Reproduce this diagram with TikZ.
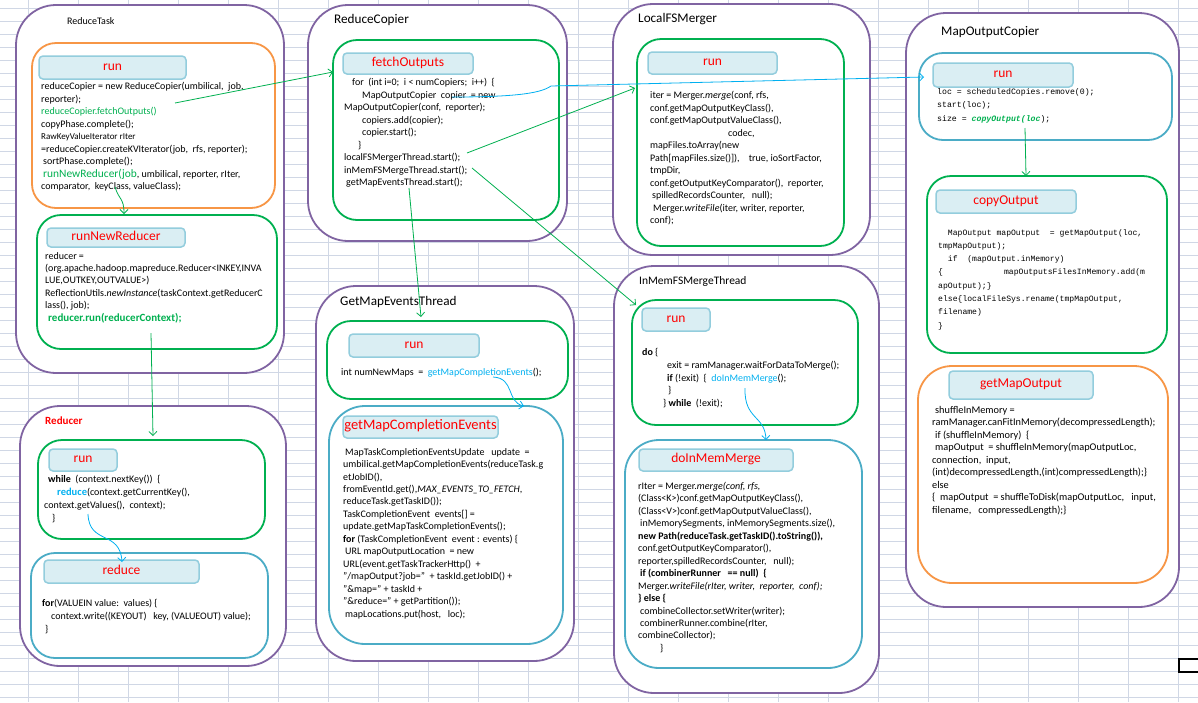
\documentclass[tikz,border=0pt]{standalone}
\usepackage{fontspec}
\setmainfont{Carlito}
\newfontfamily\cmono{Liberation Mono}
\usetikzlibrary{arrows.meta,fit}
\definecolor{purp}{HTML}{8064A2}
\definecolor{grn}{HTML}{00B050}
\definecolor{tealc}{HTML}{4BACC6}
\definecolor{orng}{HTML}{F79646}
\definecolor{hfill}{HTML}{DAEEF3}
\definecolor{hline}{HTML}{93CDDD}
\definecolor{cyanc}{HTML}{00B0F0}
\definecolor{gridc}{HTML}{D0D7E5}
\definecolor{redc}{HTML}{FF0000}
\tikzset{
  gridline/.style={draw=gridc, line width=0.7pt},
  outerbox/.style={draw=purp, line width=1.8pt, fill=white, rounded corners=40pt, inner sep=0pt},
  grnbox/.style={draw=grn, line width=1.8pt, fill=white, rounded corners=24pt, inner sep=0pt},
  tealbox/.style={draw=tealc, line width=1.8pt, fill=white, rounded corners=24pt, inner sep=0pt},
  orngbox/.style={draw=orng, line width=1.8pt, fill=white, rounded corners=24pt, inner sep=0pt},
  hdr/.style={draw=hline, line width=1.5pt, fill=hfill, rounded corners=4pt, inner sep=0pt},
  hdrtxt/.style={inner sep=0pt, text=redc, text height=1.45ex, text depth=0.3ex, font=\fontsize{13.5}{15}\selectfont},
  ttl/.style={anchor=west, inner sep=0pt, font=\fontsize{13.2}{15}\selectfont},
  code/.style={anchor=north west, inner sep=0pt, align=left, font=\fontsize{10}{12.5}\selectfont},
  mcode/.style={anchor=north west, inner sep=0pt, align=left, font=\cmono\fontsize{8.2}{13.4}\selectfont},
  gconn/.style={draw=grn, line width=0.8pt, -{Straight Barb[length=4pt,width=8pt]}},
  cconn/.style={draw=cyanc, line width=0.8pt, -{Straight Barb[length=4pt,width=8pt]}}
}
\begin{document}
\begin{tikzpicture}[x=1pt,y=-1pt]
\useasboundingbox (0,0) rectangle (1198,702);
\fill[white] (0,0) rectangle (1198,702);
% spreadsheet grid
\foreach \i in {0,...,23} \draw[gridline] (28+50*\i,0) -- (28+50*\i,702);
\foreach \j in {0,...,53} \draw[gridline] (0,8+13*\j) -- (1198,8+13*\j);
% selection marker
\draw[black, line width=2pt] (1179,659) rectangle (1202,672);

% ---------- outer boxes ----------
\node[outerbox, fit={(16,5) (284,373)}] (reducetask) {};
\node[outerbox, fit={(20,406) (286,666)}] (reducer) {};
\node[outerbox, fit={(308,5) (567,241)}] (reducecopier) {};
\node[outerbox, fit={(316,286) (574,661)}] (getmapevents) {};
\node[outerbox, fit={(613,4) (870,255)}] (localfs) {};
\node[outerbox, fit={(614,266) (879,693)}] (inmem) {};
\node[outerbox, fit={(906,13) (1179,607)}] (mapoutcopier) {};

% titles
\node[ttl, font=\fontsize{10}{12}\selectfont] (t-rt) at (67,21) {ReduceTask};
\node[ttl, font=\bfseries\fontsize{11}{13}\selectfont, text=redc] (t-rd) at (45,421) {Reducer};
\node[ttl] (t-rc) at (334,20) {ReduceCopier};
\node[ttl] (t-gm) at (340,302) {GetMapEventsThread};
\node[ttl] (t-lf) at (638,19) {LocalFSMerger};
\node[ttl, font=\fontsize{11.5}{13}\selectfont] (t-im) at (639,281) {InMemFSMergeThread};
\node[ttl] (t-mo) at (941,32) {MapOutputCopier};

% ---------- inner boxes ----------
\node[orngbox, fit={(32,43) (275,208)}] (rt-run) {};
\node[grnbox, fit={(37,215) (277,349)}] (rt-nr) {};
\node[grnbox, fit={(38,440) (265,539)}] (rd-run) {};
\node[tealbox, fit={(31,553) (268,658)}] (rd-red) {};
\node[grnbox, fit={(333,40) (559,220)}] (rc-fetch) {};
\node[grnbox, fit={(327,321) (568,399)}] (gm-run) {};
\node[tealbox, rounded corners=36pt, fit={(329,406) (563,644)}] (gm-gmce) {};
\node[grnbox, fit={(637,39) (844,246)}] (lf-run) {};
\node[grnbox, fit={(632,300) (858,425)}] (im-run) {};
\node[tealbox, rounded corners=34pt, fit={(625,440) (862,668)}] (im-dim) {};
\node[tealbox, fit={(919,53) (1172,140)}] (mo-run) {};
\node[grnbox, fit={(927,176) (1167,353)}] (mo-copy) {};
\node[orngbox, rounded corners=34pt, fit={(918,366) (1168,583)}] (mo-get) {};

% ---------- headers ----------
\node[hdr, fit={(39,56) (186,79)}] (rt-run-h) {};
\node[hdr, fit={(47,228) (185,247)}] (rt-nr-h) {};
\node[hdr, fit={(49,449) (117,471)}] (rd-run-h) {};
\node[hdr, fit={(44,560) (199,583)}] (rd-red-h) {};
\node[hdr, fit={(343,53) (473,74)}] (rc-fetch-h) {};
\node[hdr, fit={(349,334) (479,357)}] (gm-run-h) {};
\node[hdr, fit={(343,416) (498,438)}] (gm-gmce-h) {};
\node[hdr, fit={(648,52) (777,74)}] (lf-run-h) {};
\node[hdr, fit={(642,308) (710,331)}] (im-run-h) {};
\node[hdr, fit={(639,449) (793,471)}] (im-dim-h) {};
\node[hdr, fit={(933,63) (1073,87)}] (mo-run-h) {};
\node[hdr, fit={(936,190) (1076,213)}] (mo-copy-h) {};
\node[hdr, fit={(949,371) (1093,399)}] (mo-get-h) {};

\node[hdrtxt] (rt-run-t) at (rt-run-h.center) {run};
\node[hdrtxt] (rt-nr-t) at (rt-nr-h.center) {runNewReducer};
\node[hdrtxt] (rd-run-t) at (rd-run-h.center) {run};
\node[hdrtxt] (rd-red-t) at (rd-red-h.center) {reduce};
\node[hdrtxt] (rc-fetch-t) at (rc-fetch-h.center) {fetchOutputs};
\node[hdrtxt] (gm-run-t) at (gm-run-h.center) {run};
\node[hdrtxt, font=\fontsize{14.5}{16}\selectfont] (gm-gmce-t) at (gm-gmce-h.center) {getMapCompletionEvents};
\node[hdrtxt] (lf-run-t) at (lf-run-h.center) {run};
\node[hdrtxt] (im-run-t) at (im-run-h.center) {run};
\node[hdrtxt] (im-dim-t) at (im-dim-h.center) {doInMemMerge};
\node[hdrtxt] (mo-run-t) at (mo-run-h.center) {run};
\node[hdrtxt] (mo-copy-t) at (mo-copy-h.center) {copyOutput};
\node[hdrtxt] (mo-get-t) at (mo-get-h.center) {getMapOutput};

% ---------- code texts ----------
\node[code] (rt-code) at (41,82) {%
reduceCopier = new ReduceCopier(umbilical,\ \ job,\\
reporter);\\
{\color{grn}reduceCopier.fetchOutputs()}\\
copyPhase.complete();\\
{\fontsize{9}{12.5}\selectfont RawKeyValueIterator rIter}\\
=reduceCopier.createKVIterator(job,\ \ rfs, reporter);\\
\hspace*{2pt}sortPhase.complete();\\
\hspace*{2pt}{\color{grn}\fontsize{11.4}{12.5}\selectfont runNewReducer(job}, umbilical, reporter, rIter,\\
comparator,\ \ keyClass, valueClass);};

\node[code, font=\fontsize{10}{12.4}\selectfont] (nr-code) at (45,252) {%
reducer =\\
(org.apache.hadoop.mapreduce.Reducer<INKEY,INVA\\
LUE,OUTKEY,OUTVALUE>)\\
ReflectionUtils.\textit{newInstance}(taskContext.getReducerC\\
lass(), job);\\
\hspace*{3pt}{\color{grn}\bfseries\fontsize{11}{12.4}\selectfont reducer.run(reducerContext);}};

\node[code, font=\fontsize{10}{13}\selectfont] (rd-run-code) at (44,475) {%
\hspace*{4pt}\textbf{while}\ \ (context.nextKey())\ \ \{\\
\hspace*{13pt}{\color{cyanc}\bfseries\fontsize{10.5}{13}\selectfont reduce}(context.getCurrentKey(),\\
context.getValues(),\ \ context);\\
\hspace*{8pt}\}};

\node[code, font=\fontsize{10}{13}\selectfont] (rd-red-code) at (42,599) {%
\textbf{for}(VALUEIN value:\ \ values) \{\\
\hspace*{9pt}context.write((KEYOUT)\ \ \ key, (VALUEOUT) value);\\
\hspace*{3pt}\}};

\node[code] (rc-code) at (344,78) {%
\hspace*{8pt}for\ \ (int i=0;\ \ i < numCopiers;\ \ i++)\ \ \{\\
\hspace*{18pt}MapOutputCopier\ \ copier\ \ = new\\
MapOutputCopier(conf,\ \ reporter);\\
\hspace*{18pt}copiers.add(copier);\\
\hspace*{18pt}copier.start();\\
\hspace*{14pt}\}\\
localFSMergerThread.start();\\
inMemFSMergeThread.start();\\
\hspace*{2pt}getMapEventsThread.start();};

\node[code] (gm-run-code) at (341,368) {%
int numNewMaps\ \ =\ \ {\color{cyanc}getMapCompletionEvents}();};

\node[code, font=\fontsize{10}{12.45}\selectfont] (gmce-code) at (343,448) {%
\hspace*{2pt}MapTaskCompletionEventsUpdate\ \ \ update\ \ =\\
umbilical.getMapCompletionEvents(reduceTask.g\\
etJobID(),\\
fromEventId.get(),\textit{MAX\_EVENTS\_TO\_FETCH},\\
reduceTask.getTaskID());\\
TaskCompletionEvent\ \ events[] =\\
update.getMapTaskCompletionEvents();\\
\textbf{for} (TaskCompletionEvent\ \ event : events) \{\\
\hspace*{2pt}URL mapOutputLocation\ \ = new\\
URL(event.getTaskTrackerHttp()\ \ +\\
"/mapOutput?job="\ \ + taskId.getJobID() +\\
"\&map=" + taskId +\\
"\&reduce=" + getPartition());\\
\hspace*{2pt}mapLocations.put(host,\ \ \ loc);};

\node[code] (lf-code) at (650,91) {%
iter = Merger.\textit{merge}(conf, rfs,\\
conf.getMapOutputKeyClass(),\\
conf.getMapOutputValueClass(),\\
\hspace*{78pt}codec,\\
mapFiles.toArray(new\\
Path[mapFiles.size()]),\ \ \ \ true, ioSortFactor,\\
tmpDir,\\
conf.getOutputKeyComparator(),\ \ reporter,\\
\hspace*{2pt}spilledRecordsCounter,\ \ \ null);\\
\hspace*{3pt}Merger.\textit{writeFile}(iter, writer, reporter,\\
conf);};

\node[code, font=\fontsize{10}{12.8}\selectfont] (im-run-code) at (642,348) {%
\textbf{do} \{\\
\hspace*{25pt}exit = ramManager.waitForDataToMerge();\\
\hspace*{25pt}\textbf{if} (!exit)\ \ \{\ \ {\color{cyanc}doInMemMerge}();\\
\hspace*{26pt}\}\\
\hspace*{21pt}\} \textbf{while}\ \ (!exit);};

\node[code, font=\fontsize{10}{12.45}\selectfont] (dim-code) at (638,482) {%
rIter = Merger.\textit{merge(conf, rfs,}\\
(Class<K>)conf.getMapOutputKeyClass(),\\
(Class<V>)conf.getMapOutputValueClass(),\\
\hspace*{2pt}inMemorySegments, inMemorySegments.size(),\\
\textbf{new Path(reduceTask.getTaskID().toString()),}\\
conf.getOutputKeyComparator(),\\
reporter,spilledRecordsCounter,\ \ \ null);\\
\hspace*{2pt}\textbf{if (combinerRunner\ \ \ == null)\ \ \{}\\
Merger.\textit{writeFile(rIter, writer,\ \ reporter,\ \ conf);}\\
\textbf{\} else \{}\\
\hspace*{2pt}combineCollector.setWriter(writer);\\
\hspace*{2pt}combinerRunner.combine(rIter,\\
combineCollector);\\
\hspace*{22pt}\}};

\node[mcode, font=\cmono\fontsize{8.2}{13.5}\selectfont] (mo-run-code) at (937,88) {%
loc = scheduledCopies.remove(0);\\
start(loc);\\
size = {\color{grn}\bfseries\itshape copyOutput(loc});};

\node[mcode, font=\cmono\fontsize{8.1}{13.3}\selectfont] (copy-code) at (938,229) {%
\ \ MapOutput mapOutput\ \ = getMapOutput(loc,\\
tmpMapOutput);\\
\ \ if\ \ (mapOutput.inMemory)\\
\{\hspace*{61pt}mapOutputsFilesInMemory.add(m\\
apOutput);\}\\
else\{localFileSys.rename(tmpMapOutput,\\
filename)\\
\}};

\node[code, font=\fontsize{10.3}{12.5}\selectfont] (get-code) at (932,406) {%
\hspace*{3pt}shuffleInMemory =\\
ramManager.canFitInMemory(decompressedLength);\\
\hspace*{3pt}if (shuffleInMemory)\ \ \{\\
\hspace*{3pt}mapOutput\ \ = shuffleInMemory(mapOutputLoc,\\
connection,\ \ input,\\
(int)decompressedLength,(int)compressedLength);\}\\
else\\
\{\ \ mapOutput\ \ = shuffleToDisk(mapOutputLoc,\ \ \ input,\\
filename,\ \ \ compressedLength);\}};

% ---------- connector end points ----------
\coordinate (s-fetch) at (175,103);
\coordinate (e-fetch) at (333,72);
\coordinate (s-nr) at (115,187);
\coordinate (e-nr) at (124,214);
\coordinate (s-rdr) at (151,333);
\coordinate (e-rdr) at (153,436);
\coordinate (s-red) at (88,514);
\coordinate (e-red) at (122,562);
\coordinate (s-cop) at (452,97);
\coordinate (e-cop) at (924,77);
\coordinate (s-lf) at (467,153);
\coordinate (e-lf) at (635,88);
\coordinate (s-im) at (472,168);
\coordinate (e-im) at (636,305);
\coordinate (s-gm) at (409,188);
\coordinate (e-gm) at (421,317);
\coordinate (s-gmce) at (493,377);
\coordinate (e-gmce) at (524,406);
\coordinate (s-dim) at (745,388);
\coordinate (e-dim) at (766,440);
\coordinate (s-copy) at (1025,128);
\coordinate (e-copy) at (1026,176);

% ---------- connectors ----------
\draw[gconn] (s-fetch) -- (e-fetch);
\draw[gconn] (s-nr) .. controls (119,200) and (124,198) .. (e-nr);
\draw[gconn] (s-rdr) -- (e-rdr);
\draw[cconn] (s-red) .. controls (89,545) and (120,530) .. (e-red);
\draw[cconn] (s-cop) .. controls (510,97) and (540,94) .. (551,86) -- (e-cop);
\draw[gconn] (s-lf) -- (e-lf);
\draw[gconn] (s-im) -- (e-im);
\draw[gconn] (s-gm) -- (e-gm);
\draw[cconn] (s-gmce) .. controls (515,378) and (506,402) .. (e-gmce);
\draw[cconn] (s-dim) .. controls (744,420) and (765,415) .. (e-dim);
\draw[gconn] (s-copy) -- (e-copy);
\end{tikzpicture}
\end{document}
